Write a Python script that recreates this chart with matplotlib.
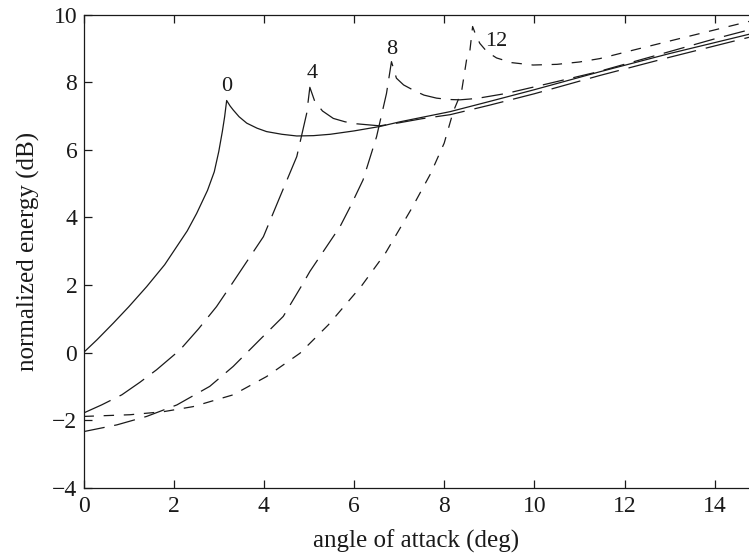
import matplotlib
matplotlib.use('Agg')
import matplotlib.pyplot as plt

plt.rcParams['font.family'] = ['Liberation Serif', 'DejaVu Serif']
plt.rcParams['lines.scale_dashes'] = False

# curve "0" (solid)
x0 = [0, 0.3, 0.66, 1.0, 1.4, 1.8, 2.07, 2.3, 2.51, 2.75, 2.9, 3.0, 3.08, 3.13, 3.175,
      3.25, 3.32, 3.45, 3.62, 3.85, 4.06, 4.4, 4.73, 5.1, 5.47, 6.0, 6.57, 7.02,
      8.13, 9.0, 10.0, 11.45, 13.0, 14.76]
y0 = [0, 0.38, 0.87, 1.35, 1.95, 2.6, 3.14, 3.6, 4.12, 4.8, 5.35, 5.95, 6.55, 6.98, 7.46,
      7.3, 7.18, 6.98, 6.79, 6.64, 6.54, 6.46, 6.41, 6.42, 6.46, 6.56, 6.69, 6.83,
      7.13, 7.43, 7.78, 8.31, 8.85, 9.42]

# curve "4" (long dash)
x4 = [0, 0.4, 0.85, 1.25, 1.62, 2.14, 2.55, 2.95, 3.3, 3.65, 3.99, 4.36, 4.73, 4.95,
      5.02, 5.13, 5.3, 5.54, 5.8, 6.06, 6.57, 7.0, 7.5, 8.13, 9.0, 10.0, 11.45,
      13.0, 14.76]
y4 = [-1.79, -1.55, -1.25, -0.88, -0.51, 0.08, 0.7, 1.36, 2.05, 2.75, 3.43, 4.62,
      5.80, 7.08, 7.85, 7.43, 7.15, 6.93, 6.83, 6.77, 6.71, 6.8, 6.92, 7.04, 7.32,
      7.66, 8.2, 8.74, 9.33]

# curve "8" (medium dash)
x8 = [0, 0.74, 1.40, 2.07, 2.80, 3.32, 3.91, 4.43, 4.87, 5.02, 5.69, 5.91, 6.20,
      6.50, 6.72, 6.83, 6.94, 7.1, 7.31, 7.55, 7.83, 8.1, 8.35, 8.72, 9.38, 10.34,
      11.38, 12.5, 14.04, 14.76]
y8 = [-2.34, -2.14, -1.89, -1.55, -1.0, -0.41, 0.38, 1.07, 2.05, 2.4, 3.73, 4.3,
      5.11, 6.39, 7.67, 8.61, 8.12, 7.92, 7.77, 7.62, 7.53, 7.49, 7.48, 7.52, 7.67,
      7.97, 8.3, 8.72, 9.3, 9.55]

# curve "12" (short dash)
x12 = [0, 1.03, 1.77, 2.43, 3.32, 4.06, 4.8, 5.43, 6.17, 6.7, 7.28, 7.7, 8.0, 8.2,
       8.31, 8.39, 8.5, 8.57, 8.63, 8.70, 8.79, 8.95, 9.16, 9.5, 9.97, 10.5, 11.0,
       11.45, 12.19, 13.0, 14.76]
y12 = [-1.89, -1.84, -1.75, -1.6, -1.25, -0.71, -0.02, 0.82, 1.98, 2.95, 4.27, 5.3,
       6.2, 7.13, 7.48, 7.77, 8.7, 8.94, 9.65, 9.4, 9.15, 8.9, 8.72, 8.58, 8.51,
       8.53, 8.6, 8.7, 8.95, 9.22, 9.8]

labels = ['0', '4', '8', '12']
label_xy = [(3.175, 7.87), (5.07, 8.27), (6.83, 8.96), (9.16, 9.2)]

fig = plt.figure(figsize=(7.49, 5.56), dpi=100)
ax = fig.add_axes([0.1115, 0.1228, 0.8885, 0.8508])

col = '#1a1a1a'
ax.plot(x0, y0, color=col, lw=0.9, ls='-')
ax.plot(x4, y4, color=col, lw=0.9, ls=(0, (21.5, 7.2)))
ax.plot(x8, y8, color=col, lw=0.9, ls=(0, (15.5, 7.0)))
ax.plot(x12, y12, color=col, lw=0.9, ls=(0, (7.5, 7.0)))

for s, (lx, ly) in zip(labels, label_xy):
    ax.text(lx, ly, s, fontsize=16, ha='center', va='center', color=col)

ax.set_xlim(0, 14.76)
ax.set_ylim(-4, 10)
ax.set_xticks(range(0, 15, 2))
ax.set_yticks(range(-4, 11, 2))
ax.spines['right'].set_visible(False)
for sp in ['left', 'top', 'bottom']:
    ax.spines[sp].set_linewidth(0.9)
    ax.spines[sp].set_color(col)
ax.tick_params(direction='in', top=True, right=False, length=5.8, width=0.9,
               labelsize=17, colors=col)
ax.tick_params(axis='x', pad=6)
ax.tick_params(axis='y', pad=4.5)

ax.set_xlabel('angle of attack (deg)', fontsize=18, color=col, labelpad=9)
ax.set_ylabel('normalized energy (dB)', fontsize=18, color=col, labelpad=9)

fig.savefig('out.png', dpi=100)
